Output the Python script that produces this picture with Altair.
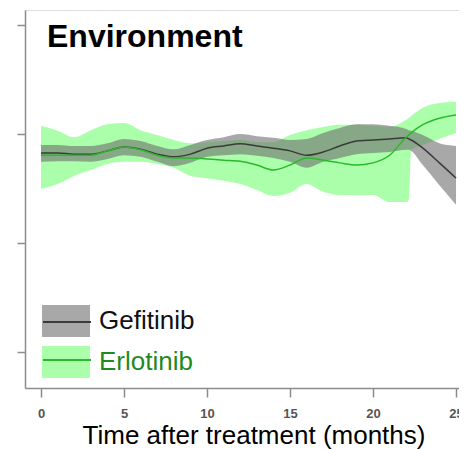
import altair as alt
import pandas as pd

# ---- data ----
months = [0, 1, 2, 3, 4, 5, 6, 7, 8, 9, 10, 11, 12, 13, 14, 15, 16, 17, 18, 19,
          20, 21, 22, 22.15, 22.3, 23, 24, 25]

gef_mean = [76.5, 76.5, 76.3, 76.3, 76.9, 77.6, 77.2, 76.3, 75.8, 76.3, 77.4, 77.8,
            78.2, 77.8, 77.4, 76.9, 76.1, 76.7, 77.8, 78.7, 78.9, 79.1, 79.3, 79.1,
            78.9, 77.4, 74.7, 71.9]
gef_hi = [78.0, 78.0, 77.8, 77.8, 78.3, 79.1, 78.7, 77.8, 77.2, 78.0, 78.9, 79.4,
          80.0, 79.6, 79.3, 78.9, 79.1, 80.2, 81.1, 81.8, 81.8, 81.5, 80.9, 80.7,
          80.6, 79.8, 78.3, 77.8]
gef_lo = [74.9, 75.0, 75.0, 74.9, 75.4, 76.1, 75.8, 74.9, 74.1, 74.7, 75.8, 76.1,
          76.3, 76.0, 75.6, 74.9, 73.8, 74.9, 75.6, 76.3, 76.5, 76.7, 77.1, 77.1,
          76.9, 74.3, 70.6, 67.0]

erl_mean = [76.1, 76.1, 76.1, 76.1, 76.9, 77.6, 77.1, 76.1, 75.6, 75.6, 75.4, 75.2,
            75.0, 74.3, 73.4, 74.3, 75.6, 75.2, 74.7, 74.3, 74.7, 76.1, 79.4, 79.8,
            80.2, 81.7, 82.9, 83.5]
erl_hi = [81.5, 80.6, 79.4, 80.7, 81.8, 82.0, 80.7, 79.8, 78.9, 78.3, 78.5, 78.7,
          78.9, 78.5, 78.5, 79.8, 80.7, 81.3, 81.7, 81.7, 81.5, 81.3, 82.6, 82.9,
          83.3, 84.8, 85.7, 85.9]
erl_lo = [69.9, 70.8, 72.3, 73.4, 74.5, 74.9, 74.9, 74.5, 73.8, 72.3, 71.9, 71.4,
          70.8, 69.7, 68.6, 69.2, 70.8, 69.4, 68.8, 68.8, 68.8, 67.5, 67.5, 67.9,
          77.1, 78.0, 79.1, 80.2]

drugs = ["Gefitinib", "Erlotinib"]
line_keys = ["Gefitinib line", "Erlotinib line"]
x_ticks = [0, 5, 10, 15, 20, 25]
y_ticks = [40, 60, 80, 100]

rows = []
for i, t in enumerate(months):
    rows.append({"month": t, "drug": drugs[0], "line": line_keys[0],
                 "mean": gef_mean[i], "lo": gef_lo[i], "hi": gef_hi[i]})
    rows.append({"month": t, "drug": drugs[1], "line": line_keys[1],
                 "mean": erl_mean[i], "lo": erl_lo[i], "hi": erl_hi[i]})
df = pd.DataFrame(rows)

FONT = "Liberation Sans"
AXIS_GREY = "#8c8c8c"

x_enc = alt.X(
    "month:Q",
    scale=alt.Scale(domain=[-0.964, 25.30], nice=False, zero=False),
    axis=alt.Axis(
        values=x_ticks, grid=False, labelFlush=False,
        title="Time after treatment (months)", titleFont=FONT, titleFontSize=26,
        titleFontWeight="normal", titleColor="black", titleX=228.5, titleY=55,
        titleBaseline="alphabetic",
        labelFont=FONT, labelFontSize=13, labelFontWeight="bold", labelColor="#555555",
        labelPadding=10, tickSize=9, tickColor=AXIS_GREY, tickWidth=1.5,
        domainColor=AXIS_GREY, domainWidth=1.5,
    ),
)
y_scale = alt.Scale(domain=[33.39, 102.75], nice=False, zero=False)
y_axis = alt.Axis(values=y_ticks, labels=False, title=None, grid=False, tickSize=8,
                  tickColor=AXIS_GREY, tickWidth=1.5, domainColor=AXIS_GREY, domainWidth=1.5)

label_color = {"expr": "datum.label == 'Erlotinib' ? '#1f8a1f' : '#111111'"}

fill_scale = alt.Scale(domain=drugs, range=["rgba(110,110,110,0.6)", "rgba(0,255,0,0.33)"])
fill_legend = alt.Legend(
    orient="none", legendX=17, legendY=287, title=None, padding=0,
    symbolType="M-1,-0.667H1V0.667H-1Z", symbolSize=2304,
    symbolStrokeColor="transparent", symbolStrokeWidth=0,
    rowPadding=-10, labelOffset=9,
    labelFont=FONT, labelFontSize=26, labelColor=label_color,
)


def band(name):
    return alt.Chart(df).transform_filter(alt.datum.drug == name).mark_area(
        interpolate="monotone"
    ).encode(
        x=x_enc,
        y=alt.Y("lo:Q", scale=y_scale, axis=y_axis),
        y2="hi:Q",
        fill=alt.Fill("drug:N", scale=fill_scale, legend=fill_legend),
    )


lines = alt.Chart(df).mark_line(interpolate="monotone", strokeWidth=1.5).encode(
    x=x_enc,
    y=alt.Y("mean:Q", scale=y_scale, axis=y_axis),
    stroke=alt.Stroke(
        "line:N",
        scale=alt.Scale(domain=line_keys, range=["#3a3a3a", "#2cb82c"]),
        legend=alt.Legend(
            orient="none", legendX=17, legendY=287, title=None, padding=0,
            symbolType="stroke", symbolSize=2304, symbolStrokeWidth=2,
            rowPadding=-10, labelOffset=9, labelExpr="''",
            labelFont=FONT, labelFontSize=26,
        ),
    ),
)

chart = alt.layer(band("Erlotinib"), band("Gefitinib"), lines).properties(
    width=436, height=378,
    autosize=alt.AutoSizeParams(type="none"),
    padding={"left": 17, "top": 2, "right": -2, "bottom": 61},
    title=alt.TitleParams(
        "Environment", anchor="start", frame="group", orient="top",
        offset=-42, dx=22, dy=27, font=FONT, fontSize=32, fontWeight="bold",
        color="black", baseline="alphabetic",
    ),
).configure_view(stroke=AXIS_GREY, strokeWidth=1.5).configure(font=FONT)

chart.save("out.html", embed_options={"renderer": "svg", "actions": False})
